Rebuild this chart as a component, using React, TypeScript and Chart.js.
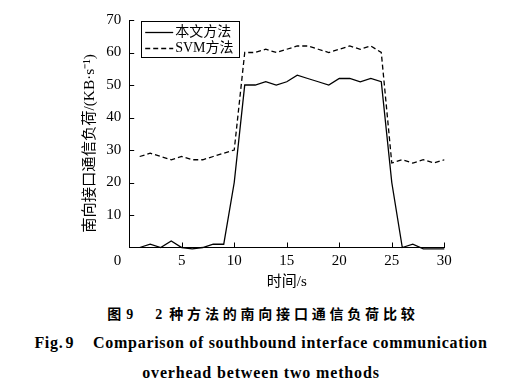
import React, { useEffect, useRef } from "react";
import { Chart, registerables } from "chart.js";

Chart.register(...registerables);

const times = [1, 2, 3, 4, 5, 6, 7, 8, 9, 10, 11, 12, 13, 14, 15, 16, 17, 18, 19, 20, 21, 22, 23, 24, 25, 26, 27, 28, 29, 30];
const proposedLoad = [0, 1, 0, 2, 0, -0.4, 0, 1, 1, 20, 50, 50, 51, 50, 51, 53, 52, 51, 50, 52, 52, 51, 52, 51, 20, 0, 1, -0.4, -0.4, -0.4];
const svmLoad = [28, 29, 28, 27, 28, 27, 27, 28, 29, 30, 60, 60, 61, 60, 61, 62, 62, 61, 60, 61, 62, 61, 62, 60, 26, 27, 26, 27, 26, 27];
const seriesNames = ["本文方法", "SVM方法"];
const xTitle = "时间/s";
const yTitle = "南向接口通信负荷/(KB·s⁻¹)";
const captionCnFig = "图";
const captionCnNum = "9";
const captionCnCount = "2";
const captionCnText = "种方法的南向接口通信负荷比较";
const captionEnFig = "Fig.";
const captionEnNum = "9";
const captionEn2 = "Comparison of southbound interface communication";
const captionEn3 = "overhead between two methods";

const SERIF = '"Liberation Serif", "Noto Sans CJK SC", serif';

const inwardTicks = {
  id: "inwardTicks",
  afterDraw(chart: any) {
    const { ctx, chartArea } = chart;
    const xs = chart.scales.x;
    const ys = chart.scales.y;
    ctx.save();
    ctx.strokeStyle = "#000";
    ctx.lineWidth = 1;
    ctx.beginPath();
    xs.ticks.forEach((t: any) => {
      if (t.value === 0) return;
      const px = Math.round(xs.getPixelForValue(t.value)) + 0.5;
      ctx.moveTo(px, chartArea.bottom);
      ctx.lineTo(px, chartArea.bottom - 5);
    });
    ys.ticks.forEach((t: any) => {
      if (t.value === 0) return;
      const py = Math.round(ys.getPixelForValue(t.value)) + 0.5;
      ctx.moveTo(chartArea.left, py);
      ctx.lineTo(chartArea.left + 5, py);
    });
    ctx.stroke();
    ctx.fillStyle = "#000";
    ctx.font = "15px " + SERIF;
    ctx.textAlign = "right";
    ctx.textBaseline = "middle";
    ctx.fillText("0", chartArea.left - 8, chartArea.bottom + 14);
    // y axis title
    ctx.save();
    ctx.translate(90, 143.5);
    ctx.rotate(-Math.PI / 2);
    ctx.font = "15.3px " + SERIF;
    ctx.textAlign = "center";
    ctx.textBaseline = "middle";
    ctx.fillText(yTitle, 0, 0);
    ctx.restore();
    ctx.restore();
  },
};

const boxLegend = {
  id: "boxLegend",
  afterDraw(chart: any) {
    const { ctx, chartArea } = chart;
    const x0 = chartArea.left + 12;
    const y0 = chartArea.top + 1;
    const w = 98;
    const h = 36;
    ctx.save();
    ctx.strokeStyle = "#000";
    ctx.lineWidth = 1;
    ctx.fillStyle = "#fff";
    ctx.fillRect(x0, y0, w, h);
    ctx.strokeRect(Math.round(x0) + 0.5, Math.round(y0) + 0.5, w, h);
    chart.data.datasets.forEach((ds: any, i: number) => {
      const yy = y0 + 11.5 + i * 16;
      ctx.beginPath();
      ctx.setLineDash(ds.borderDash || []);
      ctx.lineWidth = ds.borderWidth;
      ctx.strokeStyle = ds.borderColor;
      ctx.moveTo(x0 + 4, yy);
      ctx.lineTo(x0 + 32, yy);
      ctx.stroke();
      ctx.setLineDash([]);
      ctx.fillStyle = "#000";
      ctx.font = "14px " + SERIF;
      ctx.textAlign = "left";
      ctx.textBaseline = "middle";
      ctx.fillText(ds.label, x0 + 34, yy);
    });
    ctx.restore();
  },
};

function LoadChart() {
  const ref = useRef<HTMLCanvasElement | null>(null);
  useEffect(() => {
    if (!ref.current) return;
    const chart = new Chart(ref.current, {
      type: "line",
      data: {
        datasets: [
          {
            label: seriesNames[0],
            data: times.map((t, i) => ({ x: t, y: proposedLoad[i] })),
            borderColor: "#000",
            borderWidth: 1.3,
            pointRadius: 0,
            tension: 0,
            fill: false,
            clip: false as any,
          },
          {
            label: seriesNames[1],
            data: times.map((t, i) => ({ x: t, y: svmLoad[i] })),
            borderColor: "#000",
            borderWidth: 1.3,
            borderDash: [5, 3],
            pointRadius: 0,
            tension: 0,
            fill: false,
            clip: false as any,
          },
        ],
      },
      options: {
        responsive: false,
        animation: false,
        devicePixelRatio: 1,
        layout: { padding: { left: 0, right: 81.7, top: 20, bottom: 0 } },
        plugins: { legend: { display: false }, tooltip: { enabled: false } },
        scales: {
          x: {
            type: "linear",
            min: 0,
            max: 30,
            grid: { display: false, drawTicks: false },
            border: { display: true, color: "#000", width: 1 },
            ticks: {
              stepSize: 5,
              padding: 5,
              color: "#000",
              font: { family: SERIF, size: 15 },
              callback: (v: any) => (v === 0 ? "" : String(v)),
            },
            title: {
              display: true,
              text: xTitle,
              color: "#000",
              font: { family: SERIF, size: 15 },
              padding: { top: 0, bottom: 9 },
            },
            afterFit: (s: any) => {
              s.height = 52.5;
            },
          },
          y: {
            min: 0,
            max: 70,
            grid: { display: false, drawTicks: false },
            border: { display: true, color: "#000", width: 1 },
            ticks: {
              stepSize: 10,
              padding: 8,
              color: "#000",
              font: { family: SERIF, size: 15 },
              callback: (v: any) => (v === 0 ? "" : String(v)),
            },
            title: { display: false },
            afterFit: (s: any) => {
              s.width = 129.2;
            },
          },
        },
      },
      plugins: [inwardTicks, boxLegend],
    });
    return () => chart.destroy();
  }, []);
  return <canvas ref={ref} width={526} height={300} style={{ position: "absolute", left: 0, top: 0 }} />;
}

export default function App() {
  const cap: React.CSSProperties = {
    position: "absolute",
    left: 0,
    width: 522,
    textAlign: "center",
    fontWeight: 700,
    color: "#000",
    whiteSpace: "nowrap",
  };
  const cnFont = '"Liberation Serif", "Noto Sans CJK SC", serif';
  return (
    <div style={{ position: "absolute", left: 0, top: 0, width: 526, height: 392, background: "#fff", overflow: "hidden" }}>
      <LoadChart />
      <div style={{ ...cap, top: 305, height: 20, lineHeight: "20px", fontSize: 14, fontFamily: cnFont }}>
        <span>{captionCnFig}</span>
        <span style={{ marginLeft: 5 }}>{captionCnNum}</span>
        <span style={{ marginLeft: 22 }}>{captionCnCount}</span>
        <span style={{ marginLeft: 7, letterSpacing: 3.8, marginRight: -3.8 }}>{captionCnText}</span>
      </div>
      <div style={{ ...cap, top: 333, height: 20, lineHeight: "20px", fontSize: 16, letterSpacing: 0.7, fontFamily: '"Liberation Serif", serif' }}>
        <span>{captionEnFig}</span>
        <span style={{ marginLeft: 2 }}>{captionEnNum}</span>
        <span style={{ marginLeft: 19 }}>{captionEn2}</span>
      </div>
      <div style={{ ...cap, top: 363, height: 20, lineHeight: "20px", fontSize: 16, letterSpacing: 0.85, fontFamily: '"Liberation Serif", serif' }}>
        {captionEn3}
      </div>
    </div>
  );
}
